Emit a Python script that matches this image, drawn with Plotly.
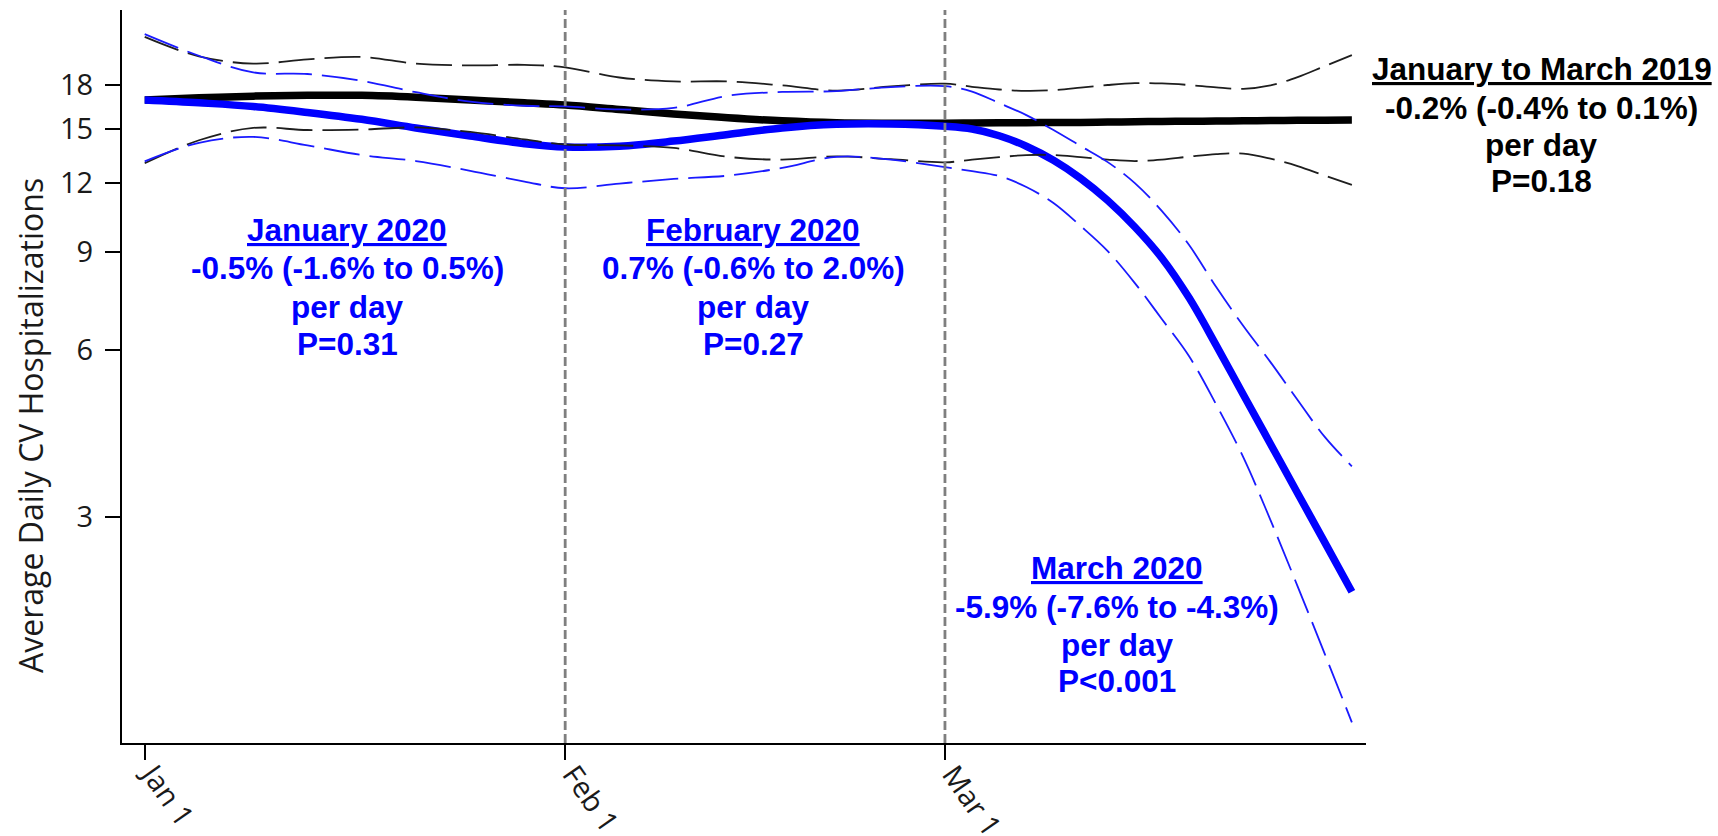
import math
import plotly.graph_objects as go

# Sample dates: every 4 days through February, every 2 days in March
dates = [
    "2019-01-01", "2019-01-05", "2019-01-09", "2019-01-13", "2019-01-17",
    "2019-01-21", "2019-01-25", "2019-01-29", "2019-02-01", "2019-02-05",
    "2019-02-09", "2019-02-13", "2019-02-17", "2019-02-21", "2019-02-25",
    "2019-03-01", "2019-03-03", "2019-03-05", "2019-03-07", "2019-03-09",
    "2019-03-11", "2019-03-13", "2019-03-15", "2019-03-17", "2019-03-19",
    "2019-03-21", "2019-03-23", "2019-03-25", "2019-03-27", "2019-03-29",
    "2019-03-31",
]

# January to March 2019: fitted daily average and 95% band
ref_mid = [16.9, 17.05, 17.17, 17.23, 17.23, 17.1, 16.9, 16.7, 16.55, 16.25,
           15.95, 15.7, 15.5, 15.38, 15.35,
           15.35, 15.36, 15.37, 15.38, 15.39, 15.4, 15.42, 15.44, 15.46, 15.47,
           15.49, 15.5, 15.52, 15.53, 15.54, 15.55]
ref_hi = [21.95, 20.25, 19.65, 20.0, 20.2, 19.65, 19.5, 19.55, 19.35, 18.55,
          18.25, 18.25, 17.95, 17.57, 17.88,
          18.08, 17.85, 17.65, 17.55, 17.6, 17.78, 17.98, 18.12, 18.1, 17.98,
          17.8, 17.7, 17.95, 18.58, 19.45, 20.35]
ref_lo = [13.0, 14.3, 15.05, 14.92, 14.95, 15.08, 14.8, 14.35, 14.05, 14.0,
          13.85, 13.35, 13.2, 13.38, 13.22,
          13.05, 13.2, 13.33, 13.45, 13.45, 13.33, 13.2, 13.12, 13.2, 13.36,
          13.5, 13.53, 13.25, 12.85, 12.35, 11.88]

# January to March 2020: fitted daily average and 95% band
cur_mid = [16.9, 16.7, 16.45, 16.05, 15.6, 15.05, 14.55, 14.1, 13.9, 13.95,
           14.25, 14.65, 15.05, 15.28, 15.3,
           15.15, 14.98, 14.57, 13.95, 13.16, 12.21, 11.14, 9.98, 8.77, 7.44,
           6.11, 4.98, 4.06, 3.31, 2.7, 2.2]
cur_hi = [22.2, 20.3, 18.95, 18.82, 18.3, 17.45, 16.78, 16.5, 16.45, 16.25,
          16.35, 17.2, 17.47, 17.53, 17.83,
          17.9, 17.5, 16.68, 15.87, 14.92, 13.96, 13.06, 11.97, 10.66, 9.26,
          7.78, 6.62, 5.7, 4.87, 4.18, 3.7]
cur_lo = [13.1, 14.15, 14.5, 14.0, 13.45, 13.12, 12.6, 12.05, 11.72, 11.95,
          12.18, 12.35, 12.75, 13.35, 13.2,
          12.79, 12.58, 12.33, 11.78, 11.02, 10.02, 9.03, 7.91, 6.81, 5.84,
          4.78, 3.84, 2.96, 2.25, 1.7, 1.28]

x_tick_vals = ["2019-01-01", "2019-02-01", "2019-03-01"]
x_tick_text = ["Jan 1", "Feb 1", "Mar 1"]
y_tick_vals = [3, 6, 9, 12, 15, 18]
month_breaks = ["2019-02-01", "2019-03-01"]

jan_text = ["<u>January 2020</u>", "-0.5% (-1.6% to 0.5%)", "per day", "P=0.31"]
feb_text = ["<u>February 2020</u>", "0.7% (-0.6% to 2.0%)", "per day", "P=0.27"]
mar_text = ["<u>March 2020</u>", "-5.9% (-7.6% to -4.3%)", "per day", "P&lt;0.001"]
ref_text = ["<u>January to March 2019</u>", "-0.2% (-0.4% to 0.1%)", "per day", "P=0.18"]

W, H = 1718, 836
ML, MR, MT, MB = 122, 352, 10, 93
PW, PH = W - ML - MR, H - MT - MB


def paper_x(px):
    return (px - ML) / PW


def paper_y(py):
    return (H - MB - py) / PH


fig = go.Figure()


def add_curve(y, color, width, dash=None):
    fig.add_trace(go.Scatter(
        x=dates, y=y, mode="lines",
        line=dict(color=color, width=width, dash=dash, shape="spline", smoothing=1.0),
        hoverinfo="skip", showlegend=False,
    ))


BLUE = "#0000ff"
add_curve(ref_mid, "#000000", 7.5)
add_curve(cur_mid, BLUE, 7.5)
add_curve(ref_hi, "#1e1e1e", 1.8, "36px,10px")
add_curve(ref_lo, "#1e1e1e", 1.8, "36px,10px")
add_curve(cur_hi, "#1a1aff", 1.8, "36px,10px")
add_curve(cur_lo, "#1a1aff", 1.8, "36px,10px")

for d in month_breaks:
    fig.add_shape(type="line", xref="x", yref="paper", x0=d, x1=d, y0=0, y1=1,
                  line=dict(color="#7f7f7f", width=2.8, dash="9px,4px"), layer="above")

annotations = []
TXT_FONT = "Liberation Sans, Arial, sans-serif"


def add_block(lines, cx, ys, color):
    for txt, yy in zip(lines, ys):
        annotations.append(dict(
            text=txt, xref="paper", yref="paper", x=paper_x(cx), y=paper_y(yy),
            xanchor="center", yanchor="middle", showarrow=False,
            font=dict(family=TXT_FONT, size=31.5, color=color, weight="bold"),
        ))


add_block(jan_text, 347, [230, 268, 306.5, 343.5], BLUE)
add_block(feb_text, 753.5, [230, 268, 306.5, 343.5], BLUE)
add_block(mar_text, 1117, [568, 606.5, 644.5, 681], BLUE)
add_block(ref_text, 1541.5, [69, 107.5, 145, 181.5], "#000000")

annotations.append(dict(
    text="Average Daily CV Hospitalizations", textangle=-90,
    xref="paper", yref="paper", x=paper_x(31), y=paper_y(426),
    xanchor="center", yanchor="middle", showarrow=False,
    font=dict(family="Open Sans", size=32, color="#1a1a1a"),
))

AX_FONT = dict(family="Open Sans", size=29, color="#1a1a1a")
fig.update_layout(
    width=W, height=H,
    margin=dict(l=ML, r=MR, t=MT, b=MB, pad=0, autoexpand=False),
    paper_bgcolor="white", plot_bgcolor="white",
    annotations=annotations,
    xaxis=dict(
        type="date", range=["2018-12-30 07:50", "2019-04-01 01:00"],
        tickmode="array", tickvals=x_tick_vals, ticktext=x_tick_text,
        tickangle=55, ticks="outside", ticklen=15, tickwidth=2, tickcolor="black",
        showline=True, linecolor="black", linewidth=2, showgrid=False, zeroline=False,
        tickfont=AX_FONT, automargin=False,
        ticklabelstandoff=-14, ticklabelshift=8,
    ),
    yaxis=dict(
        type="log", range=[math.log10(1.175), math.log10(24.54)],
        tickmode="array", tickvals=y_tick_vals, ticktext=[str(v) for v in y_tick_vals],
        ticks="outside", ticklen=15, tickwidth=2, tickcolor="black",
        showline=True, linecolor="black", linewidth=2, showgrid=False, zeroline=False,
        tickfont=AX_FONT, ticklabelstandoff=6, automargin=False,
    ),
)

fig.write_html("out.html")
